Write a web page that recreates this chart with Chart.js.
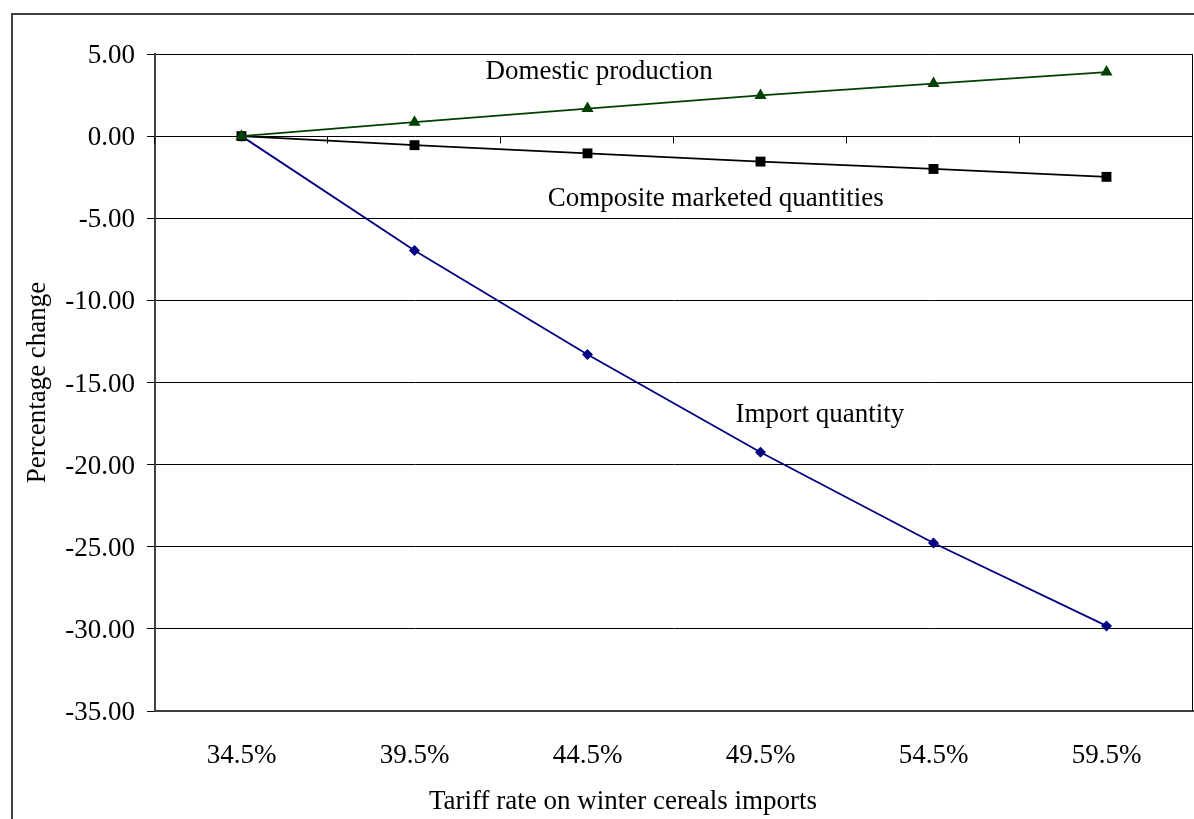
<!DOCTYPE html>
<html>
<head>
<meta charset="utf-8">
<script src="https://cdn.jsdelivr.net/npm/chart.js@4.4.0/dist/chart.umd.min.js"></script>
<style>
html,body{margin:0;padding:0;background:#fff;}
#wrap{width:1194px;height:819px;position:relative;}
</style>
</head>
<body>
<div id="wrap"><canvas id="c" width="1194" height="819"></canvas></div>
<script>
const categories = ["34.5%", "39.5%", "44.5%", "49.5%", "54.5%", "59.5%"];
const domesticProduction = [0, 0.85, 1.68, 2.48, 3.2, 3.9];
const compositeMarketed = [0, -0.55, -1.05, -1.55, -2.0, -2.48];
const importQuantity = [0, -6.97, -13.3, -19.25, -24.77, -29.82];
const yTickMin = -35, yTickMax = 5, yTickStep = 5;
const seriesLabels = ["Domestic production", "Composite marketed quantities", "Import quantity"];
const xTitle = "Tariff rate on winter cereals imports";
const yTitle = "Percentage change";

const FONT = "'Liberation Serif', 'Times New Roman', serif";

const decor = {
  id: 'decor',
  afterDraw(chart) {
    const ctx = chart.ctx;
    const a = chart.chartArea;
    const xs = chart.scales.x, ys = chart.scales.y;
    ctx.save();
    // outer chart border
    ctx.strokeStyle = '#404040';
    ctx.lineWidth = 2;
    ctx.strokeRect(12, 14, 1240, 860);
    // right plot border
    ctx.strokeStyle = '#000';
    ctx.lineWidth = 1;
    ctx.beginPath();
    ctx.moveTo(a.right - 0.5, a.top);
    ctx.lineTo(a.right - 0.5, a.bottom);
    ctx.stroke();
    // x axis line at zero with boundary tick marks
    const y0 = Math.round(ys.getPixelForValue(0)) + 0.5;
    const step = xs.getPixelForValue(1) - xs.getPixelForValue(0);
    ctx.beginPath();
    for (let i = 0; i <= categories.length; i++) {
      const px = Math.round(xs.getPixelForValue(0) - step / 2 + i * step) - 0.5;
      ctx.moveTo(px, y0);
      ctx.lineTo(px, y0 + 7);
    }
    ctx.stroke();
    // annotations
    ctx.fillStyle = '#000';
    ctx.font = '27px ' + FONT;
    ctx.textBaseline = 'middle';
    ctx.textAlign = 'left';
    ctx.fillText(seriesLabels[0], xs.getPixelForValue(1.41), ys.getPixelForValue(3.93));
    ctx.fillText(seriesLabels[1], xs.getPixelForValue(1.77), ys.getPixelForValue(-3.82));
    ctx.fillText(seriesLabels[2], xs.getPixelForValue(2.855), ys.getPixelForValue(-16.97));
    // axis titles
    ctx.textAlign = 'center';
    ctx.fillText(xTitle, 623, 802);
    ctx.translate(38, (a.top + a.bottom) / 2);
    ctx.rotate(-Math.PI / 2);
    ctx.fillText(yTitle, 0, 0);
    ctx.restore();
  }
};

new Chart(document.getElementById('c'), {
  type: 'line',
  data: {
    labels: categories,
    datasets: [
      {
        label: seriesLabels[0],
        data: domesticProduction,
        borderColor: '#004000',
        backgroundColor: '#004000',
        borderWidth: 1.8,
        pointStyle: 'triangle',
        pointRadius: 7,
        pointBorderWidth: 0,
        tension: 0
      },
      {
        label: seriesLabels[1],
        data: compositeMarketed,
        borderColor: '#000000',
        backgroundColor: '#000000',
        borderWidth: 1.8,
        pointStyle: 'rect',
        pointRadius: 7,
        pointBorderWidth: 0,
        tension: 0
      },
      {
        label: seriesLabels[2],
        data: importQuantity,
        borderColor: '#000080',
        backgroundColor: '#000080',
        borderWidth: 1.8,
        pointStyle: 'rectRot',
        pointRadius: 5.5,
        pointBorderWidth: 0,
        tension: 0
      }
    ]
  },
  options: {
    responsive: false,
    animation: false,
    devicePixelRatio: 1,
    layout: { autoPadding: false, padding: { left: 0, top: 54, right: 1, bottom: 0 } },
    plugins: {
      legend: { display: false },
      tooltip: { enabled: false },
      title: { display: false }
    },
    scales: {
      x: {
        type: 'category',
        offset: true,
        grid: { display: false, drawTicks: false },
        border: { display: true, color: '#404040', width: 2 },
        ticks: { color: '#000', font: { family: FONT, size: 27 }, padding: 29, maxRotation: 0 },
        afterFit(scale) { scale.height = 108; }
      },
      y: {
        min: yTickMin,
        max: yTickMax,
        grid: { color: '#000', lineWidth: 1, drawTicks: true, tickLength: 8, tickColor: '#000' },
        border: { display: true, color: '#404040', width: 2 },
        ticks: {
          stepSize: yTickStep,
          color: '#000',
          font: { family: FONT, size: 27 },
          padding: 12,
          labelOffset: 2,
          callback: v => Number(v).toFixed(2)
        },
        afterFit(scale) { scale.width = 155; }
      }
    }
  },
  plugins: [decor]
});
</script>
</body>
</html>
